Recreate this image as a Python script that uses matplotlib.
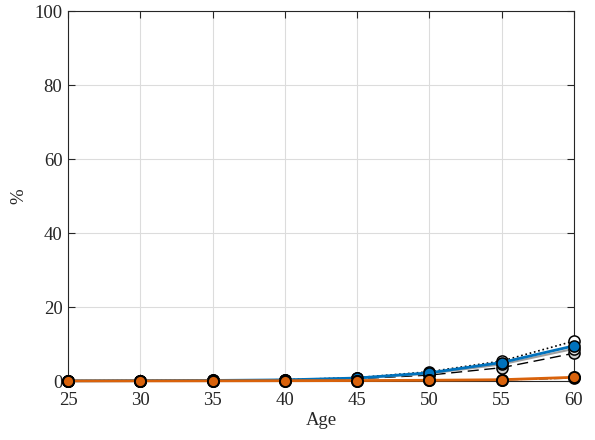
import matplotlib
matplotlib.use("Agg")
import matplotlib.pyplot as plt

plt.rcParams['font.family'] = ['Liberation Serif', 'DejaVu Serif']

ages = [25, 30, 35, 40, 45, 50, 55, 60]
blue_solid = [0.05, 0.1, 0.15, 0.3, 0.8, 2.2, 5.0, 9.5]
gray_dotted = [0.05, 0.1, 0.15, 0.35, 0.9, 2.5, 5.4, 10.8]
gray_dashed = [0.05, 0.08, 0.12, 0.25, 0.6, 1.6, 3.6, 7.5]
gray_solid = [0.05, 0.1, 0.15, 0.3, 0.75, 2.0, 4.5, 8.7]
orange_solid = [0.02, 0.03, 0.05, 0.08, 0.12, 0.2, 0.35, 1.0]
orange_dashdot = [0.02, 0.03, 0.04, 0.07, 0.1, 0.15, 0.3, 0.8]

ORANGE = '#D9620B'
BLUE = '#0072BD'

fig = plt.figure(figsize=(5.95, 4.4), dpi=100)
ax = fig.add_axes([68/595, 1 - 381/440, 506/595, 370/440])

ms = 8
ax.plot(ages, gray_dashed, color='black', ls=(0, (8, 4)), lw=1.0, marker='o', ms=ms,
        mfc='#d0d0d0', mec='black', mew=1.1, clip_on=False, zorder=3)
ax.plot(ages, gray_solid, color='#a0a0a0', ls='-', lw=1.5, marker='o', ms=ms,
        mfc='#e0e0e0', mec='black', mew=1.1, clip_on=False, zorder=3)
ax.plot(ages, gray_dotted, color='black', ls=':', lw=1.2, marker='o', ms=ms,
        mfc='white', mec='black', mew=1.1, clip_on=False, zorder=3)
ax.plot(ages, blue_solid, color=BLUE, ls='-', lw=2.0, marker='o', ms=ms,
        mfc=BLUE, mec='black', mew=1.1, clip_on=False, zorder=4)
ax.plot(ages, orange_dashdot, color='black', ls='-.', lw=1.0, marker='o', ms=ms,
        mfc=ORANGE, mec='black', mew=1.1, clip_on=False, zorder=4)
ax.plot(ages, orange_solid, color=ORANGE, ls='-', lw=2.0, marker='o', ms=ms,
        mfc=ORANGE, mec='black', mew=1.4, clip_on=False, zorder=5)

ax.set_xlim(25, 60)
ax.set_ylim(0, 100)
ax.set_xticks(ages)
ax.set_yticks([0, 20, 40, 60, 80, 100])
ax.grid(True, color='#dcdcdc', lw=0.8)
ax.set_axisbelow(True)
ax.tick_params(direction='in', labelsize=13.5, length=5, top=True, right=True,
               colors='#262626', labelcolor='#262626')
ax.tick_params(axis='x', pad=8)
ax.tick_params(axis='y', pad=4)
for s in ax.spines.values():
    s.set_linewidth(0.8)
    s.set_color('#262626')
ax.set_xlabel('Age', fontsize=13.5, labelpad=2, color='#262626')
ax.set_ylabel('%', fontsize=13.5, labelpad=5, color='#262626')

fig.savefig('out.png', dpi=100)
